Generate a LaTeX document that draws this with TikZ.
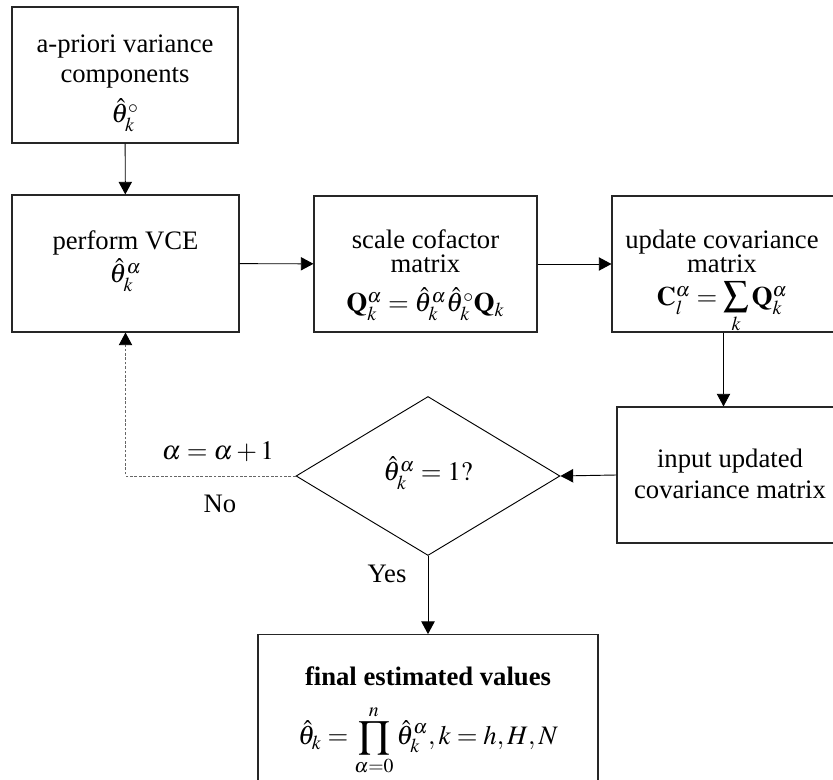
\documentclass[tikz,border=0pt]{standalone}
\usepackage{mathptmx}
\usepackage[no-math]{fontspec}
\setmainfont{Liberation Serif}
\usetikzlibrary{arrows.meta,shapes.geometric}

% a summation sign of medium size, with limits set below it
\newcommand{\midsum}{\mathop{\hbox{\fontsize{27}{27}\selectfont$\sum$}}\limits}

\begin{document}
\begin{tikzpicture}[x=0.75pt,y=-0.75pt,
  font=\fontsize{20}{24}\selectfont,
  stepbox/.style={draw=black!85,line width=0.8pt,inner sep=0pt,fill=white},
  txt/.style={anchor=base,inner sep=0pt},
  decision/.style={diamond,draw=black,line width=0.7pt,inner sep=0pt,aspect=1.66,
    minimum width=198pt,minimum height=119.25pt},
  flow/.style={line width=0.7pt,-{Triangle[length=9.5pt,width=10pt]}},
  loopback/.style={line width=0.7pt,black!60,dash pattern=on 2pt off 1.3pt,
    -{Triangle[length=9.5pt,width=10pt,black]}},
]
\useasboundingbox (0,0) rectangle (833,780);
\clip (0,0) rectangle (833,780);

% process boxes
\node[stepbox,minimum width=169.5pt,minimum height=102pt] (apriori) at (125,75) {};
\node[stepbox,minimum width=170.25pt,minimum height=102.75pt] (vce) at (125.5,263.5) {};
\node[stepbox,minimum width=167.25pt,minimum height=102pt] (scale) at (425.5,264) {};
\node[stepbox,minimum width=167.25pt,minimum height=102pt] (update) at (723.5,264) {};
\node[stepbox,minimum width=169.5pt,minimum height=102pt] (input) at (730,475) {};
\node[decision] (check) at (428,476) {};
\node[stepbox,minimum width=255pt,minimum height=116pt] (final) at (428,712) {};

% box texts, one line per node, placed on their baselines
\node[txt] (apriori-a) at (125,53) {a-priori variance};
\node[txt] (apriori-b) at (125,83) {components};
\node[txt] (apriori-c) at (125,123) {$\hat{\theta}_k^{\circ}$};

\node[txt] (vce-a) at (125.5,250) {perform VCE};
\node[txt] (vce-b) at (125.5,283) {$\hat{\theta}_k^{\alpha}$};

\node[txt] (scale-a) at (425.5,249) {scale cofactor};
\node[txt] (scale-b) at (425.5,273) {matrix};
\node[txt] (scale-c) at (425.5,312)
  {$\mathbf{Q}_k^{\alpha}=\hat{\theta}_k^{\alpha}\hat{\theta}_k^{\circ}\mathbf{Q}_k$};

\node[txt] (update-a) at (722,249) {update covariance};
\node[txt] (update-b) at (722,273) {matrix};
\node[txt] (update-c) at (722,306)
  {$\mathbf{C}_l^{\alpha}=\midsum_k\mathbf{Q}_k^{\alpha}$};

\node[txt] (input-a) at (730,468) {input updated};
\node[txt] (input-b) at (730,499) {covariance matrix};

\node[txt] (check-a) at (428,481) {$\hat{\theta}_k^{\alpha}=1?$};

\node[txt] (final-a) at (428,686) {\textbf{final estimated values}};
\node[txt] (final-b) at (428,745)
  {$\displaystyle\hat{\theta}_k=\prod_{\alpha=0}^{n}\hat{\theta}_k^{\alpha},k=h,H,N$};

% connectors
\draw[flow] (apriori) -- (vce);
\draw[flow] (vce) -- (scale);
\draw[flow] (scale) -- (update);
\draw[flow] (update.south) -- (update.south |- input.north);
\draw[flow] (input.west) -- (check.east);
\draw[flow] (check.south) -- (final.north);
\draw[loopback] (check.west) -| (vce.south);

% branch labels
\node[txt] (inc) at (218,460) {$\alpha=\alpha+1$};
\node[txt] (no) at (220,513) {No};
\node[txt] (yes) at (387,583) {Yes};
\end{tikzpicture}
\end{document}
